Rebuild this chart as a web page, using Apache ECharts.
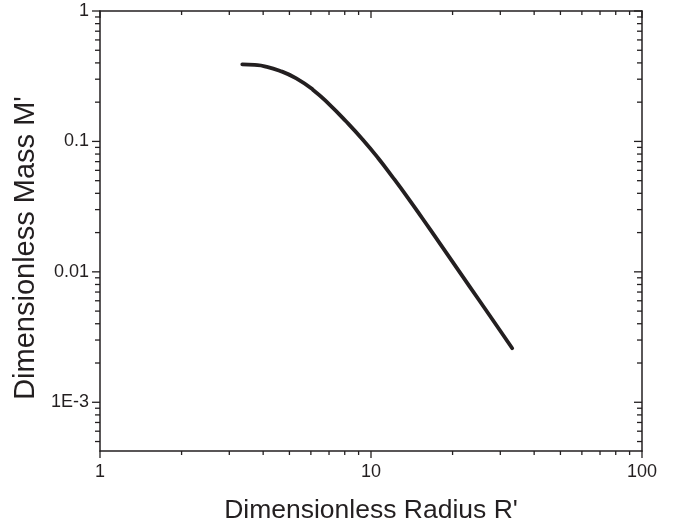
<!DOCTYPE html>
<html>
<head>
<meta charset="utf-8">
<script src="https://cdn.jsdelivr.net/npm/echarts@6/dist/echarts.min.js"></script>
<style>
  html, body { margin: 0; padding: 0; background: #ffffff; }
  #chart { width: 679px; height: 529px; }
</style>
</head>
<body>
<div id="chart"></div>
<script>
// ---- data ----
const radius = [3.35, 3.72, 4.05, 4.60, 5.30, 6.10, 7.03, 8.10, 9.33, 10.6, 12.0, 13.64, 15.49, 17.89, 21.21, 25.14, 29.80, 33.19];
const mass   = [0.3898, 0.3856, 0.3768, 0.3487, 0.3045, 0.2495, 0.1916, 0.1420, 0.1030, 0.0750, 0.05351, 0.03728, 0.02563, 0.01667, 0.0100, 0.0060, 0.0036, 0.002594];

const xRange = [1, 100];
const yRange = [4.23e-4, 1];

const xLabelValues = [1, 10, 100];
const xLabelTexts  = ['1', '10', '100'];
const yLabelValues = [1, 0.1, 0.01, 0.001];
const yLabelTexts  = ['1', '0.1', '0.01', '1E-3'];

const xMajorTicks = [1, 10, 100];
const xMinorTicks = [2, 3, 4, 5, 6, 7, 8, 9, 20, 30, 40, 50, 60, 70, 80, 90];
const yMajorTicks = [0.001, 0.01, 0.1, 1];
const yMinorTicks = [0.0005, 0.0006, 0.0007, 0.0008, 0.0009,
                     0.002, 0.003, 0.004, 0.005, 0.006, 0.007, 0.008, 0.009,
                     0.02, 0.03, 0.04, 0.05, 0.06, 0.07, 0.08, 0.09,
                     0.2, 0.3, 0.4, 0.5, 0.6, 0.7, 0.8, 0.9];

const xTitle = 'Dimensionless Radius R\'';
const yTitle = 'Dimensionless Mass M\'';

// ---- build ----
const INK = '#231f20';
const FONT = '"Liberation Sans", Arial, Helvetica, sans-serif';

function labelFor(values, texts) {
  return function (v) {
    for (let i = 0; i < values.length; i++) {
      if (Math.abs(Math.log10(v) - Math.log10(values[i])) < 1e-6) return texts[i];
    }
    return '';
  };
}

const tickData = [];
xMajorTicks.forEach(v => tickData.push([v, yRange[0], 0]));
xMinorTicks.forEach(v => tickData.push([v, yRange[0], 1]));
yMajorTicks.forEach(v => tickData.push([xRange[0], v, 2]));
yMinorTicks.forEach(v => tickData.push([xRange[0], v, 3]));

const lineData = radius.map((r, i) => [r, mass[i]]);

const chart = echarts.init(document.getElementById('chart'), null, { renderer: 'canvas' });

const baseAxisLine = { show: true, onZero: false, lineStyle: { color: INK, width: 1.5 } };

chart.setOption({
  animation: false,
  backgroundColor: '#ffffff',
  grid: { left: 100, top: 11, width: 542, height: 441, containLabel: false },
  xAxis: [
    {
      type: 'log', logBase: 10, min: xRange[0], max: xRange[1], position: 'bottom',
      axisLine: baseAxisLine,
      axisTick: { show: false },
      splitLine: { show: false },
      axisLabel: {
        formatter: labelFor(xLabelValues, xLabelTexts),
        color: INK, fontSize: 18, fontFamily: FONT, margin: 12,
        showMinLabel: true, showMaxLabel: true
      },
      name: xTitle, nameLocation: 'middle', nameGap: 46,
      nameTextStyle: { color: INK, fontSize: 26.5, fontFamily: FONT }
    },
    {
      type: 'log', logBase: 10, min: xRange[0], max: xRange[1], position: 'top',
      axisLine: baseAxisLine,
      axisTick: { show: false }, axisLabel: { show: false }, splitLine: { show: false }
    }
  ],
  yAxis: [
    {
      type: 'log', logBase: 10, min: yRange[0], max: yRange[1], position: 'left',
      axisLine: baseAxisLine,
      axisTick: { show: false },
      splitLine: { show: false },
      axisLabel: {
        formatter: labelFor(yLabelValues, yLabelTexts),
        color: INK, fontSize: 18, fontFamily: FONT, margin: 11,
        showMinLabel: true, showMaxLabel: true
      },
      name: yTitle, nameLocation: 'middle', nameGap: 54,
      nameTextStyle: { color: INK, fontSize: 29, fontFamily: FONT, padding: [0, 34, 0, 0] }
    },
    {
      type: 'log', logBase: 10, min: yRange[0], max: yRange[1], position: 'right',
      axisLine: baseAxisLine,
      axisTick: { show: false }, axisLabel: { show: false }, splitLine: { show: false }
    }
  ],
  series: [
    {
      type: 'custom',
      xAxisIndex: 0, yAxisIndex: 0,
      silent: true,
      clip: false,
      encode: { x: 0, y: 1 },
      data: tickData,
      renderItem: function (params, api) {
        const kind = api.value(2);
        const style = { stroke: INK, lineWidth: 1.3 };
        if (kind === 0 || kind === 1) {
          const v = api.value(0);
          const b = api.coord([v, yRange[0]]);
          const t = api.coord([v, yRange[1]]);
          const lb = kind === 0 ? 7 : 4;
          const lt = kind === 0 ? 7 : 4;
          return {
            type: 'group',
            children: [
              { type: 'line', shape: { x1: b[0], y1: b[1], x2: b[0], y2: b[1] + lb }, style: style },
              { type: 'line', shape: { x1: t[0], y1: t[1], x2: t[0], y2: t[1] + lt }, style: style }
            ]
          };
        } else {
          const v = api.value(1);
          const l = api.coord([xRange[0], v]);
          const r = api.coord([xRange[1], v]);
          const ll = kind === 2 ? 8 : 5;
          const lr = kind === 2 ? 8 : 5;
          return {
            type: 'group',
            children: [
              { type: 'line', shape: { x1: l[0], y1: l[1], x2: l[0] - ll, y2: l[1] }, style: style },
              { type: 'line', shape: { x1: r[0], y1: r[1], x2: r[0] - lr, y2: r[1] }, style: style }
            ]
          };
        }
      }
    },
    {
      type: 'line',
      xAxisIndex: 0, yAxisIndex: 0,
      data: lineData,
      smooth: 0.5,
      showSymbol: false,
      silent: true,
      lineStyle: { color: INK, width: 3.8, cap: 'round', join: 'round' }
    }
  ]
});
</script>
</body>
</html>
